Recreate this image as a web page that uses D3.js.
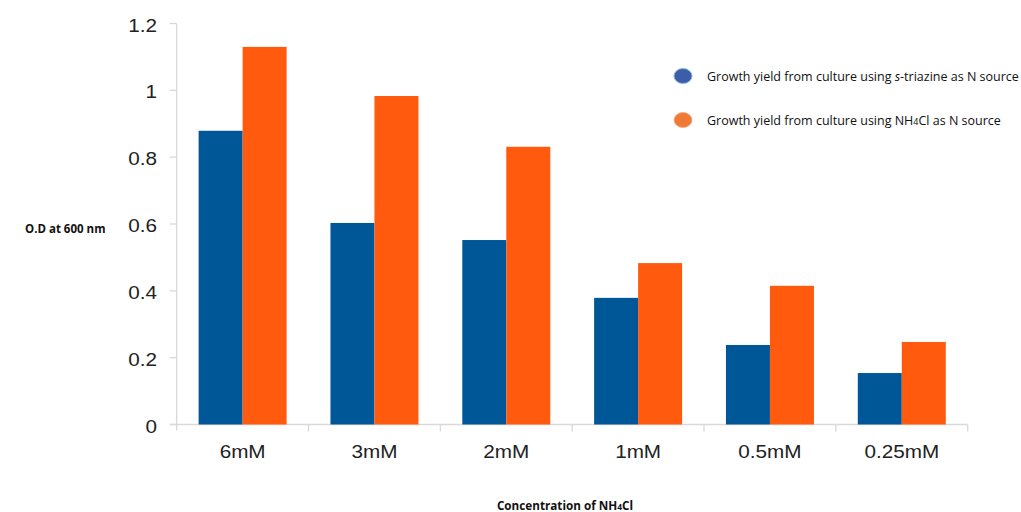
<!DOCTYPE html>
<html><head><meta charset="utf-8">
<script src="https://cdn.jsdelivr.net/npm/d3@7"></script>
<style>body{margin:0;background:#fff}svg{display:block}</style>
</head><body>
<svg id="c" width="1021" height="512"></svg>
<script>
const categories = ["6mM","3mM","2mM","1mM","0.5mM","0.25mM"];
const triazine = [0.879,0.603,0.552,0.379,0.238,0.154];
const nh4cl = [1.130,0.983,0.831,0.483,0.415,0.247];
const yTicks = [0,0.2,0.4,0.6,0.8,1,1.2];
const seriesNames = ["Growth yield from culture using s-triazine as N source","Growth yield from culture using NH4Cl as N source"];

const svg = d3.select("#c");
const pLeft=176.7, pRight=967.7, pTop=23.5, pBottom=424.5;
const x = d3.scaleBand().domain(categories).range([pLeft,pRight]).paddingInner(0).paddingOuter(0);
const y = d3.scaleLinear().domain([0,1.2]).range([pBottom,pTop]);
const grid="#d9d9d9";
const tickFont="Liberation Sans, Arial, sans-serif";
const calFont="Open Sans, sans-serif";
const sx = 1.15;

// axes lines
svg.append("line").attr("x1",pLeft).attr("x2",pLeft).attr("y1",pTop).attr("y2",pBottom+6).attr("stroke",grid).attr("stroke-width",1.3);
svg.append("line").attr("x1",pLeft-7).attr("x2",pRight).attr("y1",pBottom).attr("y2",pBottom).attr("stroke",grid).attr("stroke-width",1.3);
yTicks.forEach(t=>{
  svg.append("line").attr("x1",pLeft-7).attr("x2",pLeft).attr("y1",y(t)).attr("y2",y(t)).attr("stroke",grid).attr("stroke-width",1.3);
  svg.append("text").attr("transform",`translate(157,${y(t)+8}) scale(${sx},1)`).attr("text-anchor","end")
    .attr("font-family",tickFont).attr("font-size",18).attr("fill","#222").text(String(t));
});
categories.forEach((c,i)=>{
  const xb = x(c);
  svg.append("line").attr("x1",xb+x.bandwidth()).attr("x2",xb+x.bandwidth()).attr("y1",pBottom).attr("y2",pBottom+7).attr("stroke",grid).attr("stroke-width",1.3);
  svg.append("text").attr("transform",`translate(${xb+x.bandwidth()/2},458) scale(${sx},1)`).attr("text-anchor","middle")
    .attr("font-family",tickFont).attr("font-size",18).attr("fill","#222").text(c);
});

const bw = 44, off = (x.bandwidth()-2*bw)/2;
svg.append("g").selectAll("rect").data(triazine).join("rect")
  .attr("x",(d,i)=>x(categories[i])+off).attr("width",bw)
  .attr("y",d=>y(d)).attr("height",d=>pBottom-y(d)).attr("fill","#005797");
svg.append("g").selectAll("rect").data(nh4cl).join("rect")
  .attr("x",(d,i)=>x(categories[i])+off+bw).attr("width",bw)
  .attr("y",d=>y(d)).attr("height",d=>pBottom-y(d)).attr("fill","#ff5a0d");

// axis titles
svg.append("text").attr("x",25).attr("y",233).attr("font-family",calFont).attr("font-weight","bold")
  .attr("font-size",11.5).attr("fill","#111").text("O.D at 600 nm");
const xt = svg.append("text").attr("x",565).attr("y",510).attr("text-anchor","middle").attr("font-family",calFont)
  .attr("font-weight","bold").attr("font-size",11.7).attr("fill","#111");
xt.append("tspan").text("Concentration of NH");
xt.append("tspan").attr("font-size",8.5).text("4");
xt.append("tspan").text("Cl");

// legend
const legColors=[["#3a5ea8","#8fb0dc"],["#ee7a33","#f3b08a"]];
const legY=[76,120];
legY.forEach((ly,i)=>{
  svg.append("ellipse").attr("cx",683).attr("cy",ly).attr("rx",9).attr("ry",7.5)
    .attr("fill",legColors[i][0]).attr("stroke",legColors[i][1]).attr("stroke-width",1);
});
const l1 = svg.append("text").attr("x",707).attr("y",80.5).attr("font-family",calFont).attr("font-size",12.5).attr("fill","#111");
l1.append("tspan").text("Growth yield from culture using ");
l1.append("tspan").attr("font-style","italic").text("s");
l1.append("tspan").text("-triazine as N source");
const l2 = svg.append("text").attr("x",707).attr("y",124.5).attr("font-family",calFont).attr("font-size",12.5).attr("fill","#111");
l2.append("tspan").text("Growth yield from culture using NH");
l2.append("tspan").attr("font-size",9).text("4");
l2.append("tspan").text("Cl as N source");
</script>
</body></html>
